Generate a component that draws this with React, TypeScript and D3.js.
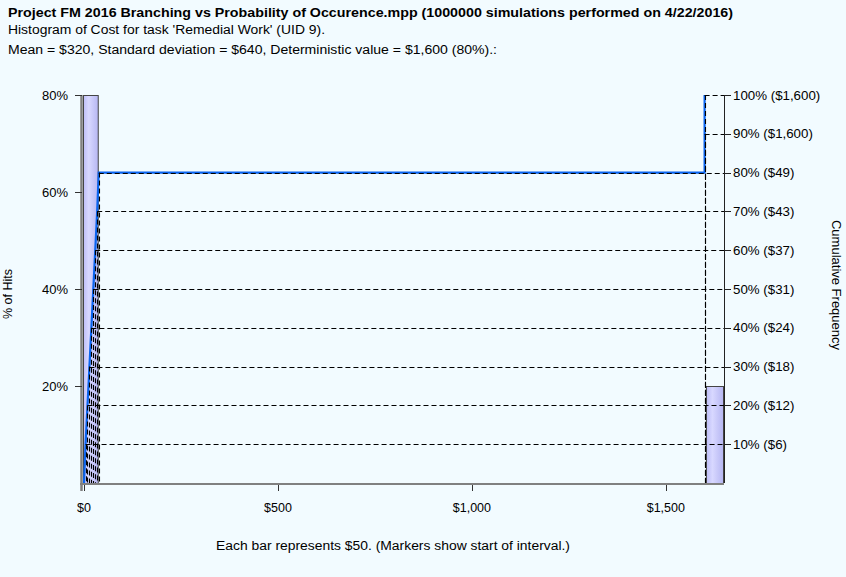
import React from 'react';
import * as d3 from 'd3';

const W = 846;
const H = 577;

const titleMain = 'Project FM 2016 Branching vs Probability of Occurence.mpp (1000000 simulations performed on 4/22/2016)';
const subtitle1 = "Histogram of Cost for task 'Remedial Work' (UID 9).";
const subtitle2 = 'Mean = $320, Standard deviation = $640, Deterministic value = $1,600 (80%).:';
const xAxisTitle = 'Each bar represents $50. (Markers show start of interval.)';
const leftAxisTitle = '% of Hits';
const rightAxisTitle = 'Cumulative Frequency';

// histogram bars (bin edges as drawn, share of hits)
const binStart = [0, 1606];
const binEnd = [38, 1650];
const binShare = [0.8, 0.2];

// left axis ticks
const leftTicks = [0.2, 0.4, 0.6, 0.8];
const leftTickLabels = ['20%', '40%', '60%', '80%'];

// x axis ticks
const xTicks = [0, 500, 1000, 1500];
const xTickLabels = ['$0', '$500', '$1,000', '$1,500'];

// cumulative curve
const curveValue = [0, 4, 9, 14, 19, 24, 29, 34, 38, 1600, 1600];
const curvePct = [0, 0.1, 0.2, 0.3, 0.4, 0.5, 0.6, 0.7, 0.8, 0.8, 1.0];

// cumulative percentile markers
const pctTicks = [0.1, 0.2, 0.3, 0.4, 0.5, 0.6, 0.7, 0.8, 0.9, 1.0];
const pctValue = [4, 9, 14, 19, 24, 29, 34, 38, 1600, 1600];
const pctLabels = ['10% ($6)', '20% ($12)', '30% ($18)', '40% ($24)', '50% ($31)', '60% ($37)', '70% ($43)', '80% ($49)', '90% ($1,600)', '100% ($1,600)'];

const FONT = '"Liberation Sans", Arial, sans-serif';

export default function App() {
  const left = 84, right = 724, bottom = 483, top = 95;
  const x = d3.scaleLinear().domain([0, 1650]).range([left, right]);
  const yL = d3.scaleLinear().domain([0, 0.8]).range([bottom, top]);
  const yR = d3.scaleLinear().domain([0, 1]).range([bottom, top]);

  const line = d3.line<number>()
    .x((_, i) => x(curveValue[i]))
    .y((_, i) => yR(curvePct[i]));
  const curvePath = line(curveValue) || '';

  return (
    <div style={{ position: 'absolute', left: 0, top: 0 }}>
      <svg width={W} height={H} style={{ display: 'block', fontFamily: FONT }}>
        <defs>
          <linearGradient id="barFill" x1="0" x2="1" y1="0" y2="0">
            <stop offset="0" stopColor="#bebef8" />
            <stop offset="0.35" stopColor="#d8d8ff" />
            <stop offset="1" stopColor="#b6b6f2" />
          </linearGradient>
        </defs>
        <rect x={0} y={0} width={W} height={H} fill="#f2fbff" />

        <text x={8} y={17} fontSize={13} fontWeight="bold" fill="#000" textLength={725} lengthAdjust="spacingAndGlyphs">{titleMain}</text>
        <text x={8} y={34} fontSize={12.5} fill="#000" textLength={317} lengthAdjust="spacingAndGlyphs">{subtitle1}</text>
        <text x={8} y={54} fontSize={12.5} fill="#000" textLength={489} lengthAdjust="spacingAndGlyphs">{subtitle2}</text>

        {/* bars */}
        {binStart.map((s, i) => (
          <rect key={'b' + i}
            x={x(s) - 0.5}
            y={yL(binShare[i]) + 0.5}
            width={x(binEnd[i]) - x(s)}
            height={bottom - yL(binShare[i])}
            fill="url(#barFill)" stroke="#444" strokeWidth={1} />
        ))}

        {/* cumulative curve */}
        <path d={curvePath} fill="none" stroke="#0a64f0" strokeWidth={2.2} />

        {/* percentile guide lines */}
        {pctTicks.map((p, i) => (
          <g key={'g' + i} stroke="#000" strokeWidth={1.1} strokeDasharray="5,3" fill="none">
            <line x1={x(pctValue[i])} x2={right} y1={Math.round(yR(p)) + 0.5} y2={Math.round(yR(p)) + 0.5} />
            <line x1={Math.round(x(pctValue[i])) + 0.5} x2={Math.round(x(pctValue[i])) + 0.5} y1={yR(p)} y2={bottom} />
          </g>
        ))}

        {/* left axis */}
        <line x1={81.5} x2={81.5} y1={top} y2={491} stroke="#808080" strokeWidth={2.5} />
        {leftTicks.map((t, i) => (
          <g key={'lt' + i}>
            <line x1={75} x2={82} y1={Math.round(yL(t)) + 0.5} y2={Math.round(yL(t)) + 0.5} stroke="#333" strokeWidth={1} />
            <text x={68} y={yL(t) + 4.5} fontSize={13} textAnchor="end" fill="#000">{leftTickLabels[i]}</text>
          </g>
        ))}

        {/* bottom axis */}
        <line x1={80} x2={right} y1={bottom + 1} y2={bottom + 1} stroke="#808080" strokeWidth={2} />
        {xTicks.map((t, i) => (
          <g key={'xt' + i}>
            <line x1={Math.round(x(t)) + 0.5} x2={Math.round(x(t)) + 0.5} y1={bottom + 2} y2={bottom + 8} stroke="#333" strokeWidth={1} />
            <text x={x(t)} y={512} fontSize={12.5} textAnchor="middle" fill="#000">{xTickLabels[i]}</text>
          </g>
        ))}

        {/* right axis */}
        <line x1={right + 0.5} x2={right + 0.5} y1={top} y2={bottom} stroke="#222" strokeWidth={1} />
        {pctTicks.map((p, i) => (
          <g key={'rt' + i}>
            <line x1={right} x2={731} y1={Math.round(yR(p)) + 0.5} y2={Math.round(yR(p)) + 0.5} stroke="#222" strokeWidth={1} />
            <text x={733} y={yR(p) + 4.5} fontSize={13.3} fill="#000">{pctLabels[i]}</text>
          </g>
        ))}

        {/* axis titles */}
        <text x={393} y={550} fontSize={12.5} textAnchor="middle" fill="#000" textLength={354} lengthAdjust="spacingAndGlyphs">{xAxisTitle}</text>
        <text transform="translate(12,294) rotate(-90)" fontSize={12.5} textAnchor="middle" fill="#000">{leftAxisTitle}</text>
        <text transform="translate(832,285) rotate(90)" fontSize={13} textAnchor="middle" fill="#000">{rightAxisTitle}</text>
      </svg>
    </div>
  );
}
